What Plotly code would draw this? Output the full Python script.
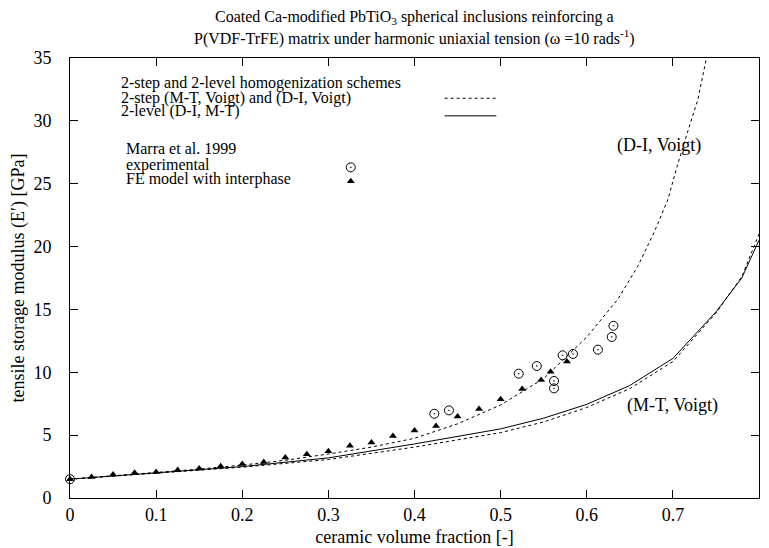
import plotly.graph_objects as go

# Model curves
x_upper = [0, 0.05, 0.1, 0.15, 0.2, 0.25, 0.3, 0.35, 0.4, 0.45, 0.5, 0.55, 0.6, 0.636, 0.659, 0.678, 0.694, 0.705, 0.717, 0.729, 0.739, 0.745]
y_upper = [1.5, 1.75, 2.02, 2.3, 2.62, 3.0, 3.5, 4.05, 4.75, 5.9, 7.4, 9.5, 12.8, 15.8, 18.4, 21.1, 23.7, 26.4, 29.1, 31.7, 35.0, 37.0]

x_lower = [0, 0.1, 0.2, 0.3, 0.4, 0.5, 0.55, 0.6, 0.65, 0.7, 0.75, 0.78, 0.8]
y_mt_voigt = [1.5, 1.96, 2.45, 3.06, 4.05, 5.2, 6.05, 7.2, 8.7, 10.85, 14.7, 17.6, 21.0]
y_2level = [1.5, 1.98, 2.5, 3.19, 4.3, 5.5, 6.35, 7.45, 8.95, 11.1, 14.8, 17.5, 20.5]

# Experimental (Marra et al. 1999)
x_exp = [0, 0.423, 0.44, 0.521, 0.542, 0.562, 0.562, 0.572, 0.584, 0.613, 0.629, 0.631]
y_exp = [1.5, 6.70, 6.97, 9.89, 10.5, 9.31, 8.72, 11.35, 11.46, 11.8, 12.81, 13.7]

# FE model with interphase
x_fe = [0, 0.025, 0.05, 0.075, 0.1, 0.125, 0.15, 0.175, 0.2, 0.225, 0.25, 0.275, 0.3, 0.325,
        0.35, 0.375, 0.4, 0.425, 0.45, 0.475, 0.5, 0.525, 0.547, 0.558, 0.577]
y_fe = [1.5, 1.68, 1.87, 2.0, 2.07, 2.23, 2.34, 2.53, 2.71, 2.87, 3.22, 3.48, 3.72, 4.15,
        4.42, 4.93, 5.37, 5.72, 6.49, 7.07, 7.85, 8.67, 9.38, 10.05, 10.85]

x_ticks = [0, 0.1, 0.2, 0.3, 0.4, 0.5, 0.6, 0.7, 0.8]
x_ticklabels = ["0", "0.1", "0.2", "0.3", "0.4", "0.5", "0.6", "0.7", "0.8"]
y_ticks = [0, 5, 10, 15, 20, 25, 30, 35]

title_lines = [
    "Coated Ca-modified PbTiO<sub>3</sub> spherical inclusions reinforcing a",
    "P(VDF-TrFE) matrix under harmonic uniaxial tension (ω =10 rads<sup>-1</sup>)",
]

FONT = "Liberation Serif"

fig = go.Figure()
fig.add_trace(go.Scatter(x=x_upper, y=y_upper, mode="lines",
                         line=dict(color="black", width=1, dash="dot"), showlegend=False))
fig.add_trace(go.Scatter(x=x_lower, y=y_mt_voigt, mode="lines",
                         line=dict(color="black", width=1, dash="dot"), showlegend=False))
fig.add_trace(go.Scatter(x=x_lower, y=y_2level, mode="lines",
                         line=dict(color="black", width=1), showlegend=False))
fig.add_trace(go.Scatter(x=x_exp, y=y_exp, mode="markers", cliponaxis=False,
                         marker=dict(symbol="circle-open-dot", size=9, color="black",
                                     line=dict(width=1, color="black")), showlegend=False))
fig.add_trace(go.Scatter(x=x_fe, y=y_fe, mode="markers", cliponaxis=False,
                         marker=dict(symbol="triangle-up", size=7, color="black"), showlegend=False))

# Key samples
fig.add_trace(go.Scatter(x=[0.435, 0.495], y=[31.8, 31.8], mode="lines",
                         line=dict(color="black", width=1, dash="dot"), showlegend=False))
fig.add_trace(go.Scatter(x=[0.435, 0.495], y=[30.4, 30.4], mode="lines",
                         line=dict(color="black", width=1), showlegend=False))
fig.add_trace(go.Scatter(x=[0.326], y=[26.3], mode="markers",
                         marker=dict(symbol="circle-open-dot", size=9, color="black"), showlegend=False))
fig.add_trace(go.Scatter(x=[0.326], y=[25.2], mode="markers",
                         marker=dict(symbol="triangle-up", size=7, color="black"), showlegend=False))

def txt(x, y, s, size=16, anchor="left"):
    fig.add_annotation(x=x, y=y, xref="x", yref="y", text=s, showarrow=False,
                       xanchor=anchor, yanchor="middle", borderpad=0,
                       font=dict(family=FONT, size=size, color="black"))

txt(0.058, 33.0, "2-step and 2-level homogenization schemes")
txt(0.058, 31.85, "2-step (M-T, Voigt) and (D-I, Voigt)")
txt(0.058, 30.75, "2-level (D-I, M-T)")
txt(0.064, 27.8, "Marra et al. 1999")
txt(0.064, 26.5, "experimental")
txt(0.064, 25.4, "FE model with interphase")
txt(0.684, 28.05, "(D-I, Voigt)", 18, "center")
txt(0.70, 7.35, "(M-T, Voigt)", 18, "center")

# Title (two lines)
for yy, line in zip([1.093, 1.047], title_lines):
    fig.add_annotation(x=0.5, y=yy, xref="paper", yref="paper", text=line, showarrow=False,
                       xanchor="center", yanchor="middle", borderpad=0,
                       font=dict(family=FONT, size=16, color="black"))

fig.update_layout(
    width=761, height=540,
    margin=dict(l=62, r=10, t=50, b=50),
    paper_bgcolor="white", plot_bgcolor="white",
    font=dict(family=FONT, size=18, color="black"),
    xaxis=dict(range=[0, 0.8], tickvals=x_ticks, ticktext=x_ticklabels,
               ticks="inside", ticklen=8, tickwidth=1, tickcolor="black",
               showline=True, linecolor="black", linewidth=1, mirror="ticks",
               showgrid=False, zeroline=False, automargin=False, ticklabelstandoff=0,
               tickfont=dict(family=FONT, size=18),
               title=dict(text="ceramic volume fraction [-]", standoff=6,
                          font=dict(family=FONT, size=18))),
    yaxis=dict(range=[0, 35], tickvals=y_ticks,
               ticks="inside", ticklen=8, tickwidth=1, tickcolor="black",
               showline=True, linecolor="black", linewidth=1, mirror="ticks",
               showgrid=False, zeroline=False, automargin=False, ticklabelstandoff=14,
               tickfont=dict(family=FONT, size=18),
               title=dict(text="tensile storage modulus (E′) [GPa]", standoff=4,
                          font=dict(family=FONT, size=18))),
)

fig.write_html("out.html")
